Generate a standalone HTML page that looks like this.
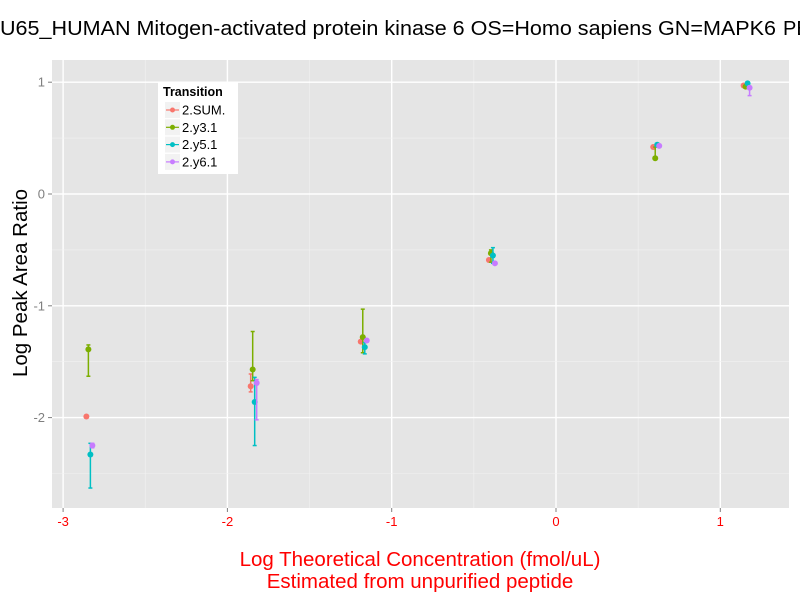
<!DOCTYPE html>
<html><head><meta charset="utf-8"><style>body{margin:0;background:#fff}svg{display:block;font-family:"Liberation Sans",sans-serif}</style></head>
<body>
<svg id="chart" width="800" height="600"></svg>
<script>
const groupX=[-2.84,-1.84,-1.17,-0.39,0.61,1.16];
const series=["2.SUM.","2.y3.1","2.y5.1","2.y6.1"];
const colors=["#F8766D","#7CAE00","#00BFC4","#C77CFF"];
const sumY=[-1.99,-1.72,-1.32,-0.59,0.42,0.97];
const y3Y=[-1.39,-1.57,-1.28,-0.53,0.32,0.96];
const y5Y=[-2.33,-1.86,-1.37,-0.55,0.44,0.99];
const y6Y=[-2.25,-1.69,-1.31,-0.62,0.43,0.95];
const sumLo=[null,-1.77,null,null,null,null];
const sumHi=[null,-1.61,null,null,null,null];
const y3Lo=[-1.63,-1.67,-1.42,-0.61,0.32,null];
const y3Hi=[-1.35,-1.23,-1.03,-0.50,0.42,null];
const y5Lo=[-2.63,-2.25,-1.43,-0.62,null,null];
const y5Hi=[-2.23,-1.64,-1.33,-0.48,null,null];
const y6Lo=[-2.27,-2.02,null,null,null,0.88];
const y6Hi=[-2.23,-1.66,null,null,null,0.95];
const xTicks=[-3,-2,-1,0,1];
const yTicks=[1,0,-1,-2];
const xs=v=>556+v*164.3, ys=v=>194-v*111.8;
const NS="http://www.w3.org/2000/svg",svg=document.getElementById('chart');
function mk(t,a,p){const e=document.createElementNS(NS,t);for(const k in a)e.setAttribute(k,a[k]);(p||svg).appendChild(e);return e;}
const L=52,R=789,T=60,B=508;
const panel=mk('rect',{x:L,y:T,width:R-L,height:B-T,fill:'#E5E5E5'});


for(let v=-3;v<=1.3;v+=0.5){const x=xs(v);if(x<L||x>R)continue;const major=Number.isInteger(v);mk('line',{x1:x,x2:x,y1:T,y2:B,stroke:major?'#fff':'#F2F2F2','stroke-width':major?1.4:0.6});}
for(let v=-2.5;v<=1.3;v+=0.5){const y=ys(v);if(y<T||y>B)continue;const major=Number.isInteger(v);mk('line',{x1:L,x2:R,y1:y,y2:y,stroke:major?'#fff':'#F2F2F2','stroke-width':major?1.4:0.6});}
xTicks.forEach(v=>{const x=xs(v);mk('line',{x1:x,x2:x,y1:B,y2:B+4,stroke:'#7f7f7f'});
const t=mk('text',{x:x,y:B+18,'text-anchor':'middle','font-size':13,fill:'#FF0000'});t.textContent=v;

});
yTicks.forEach(v=>{const y=ys(v);mk('line',{x1:L-4,x2:L,y1:y,y2:y,stroke:'#7f7f7f'});
const t=mk('text',{x:L-7,y:y+4.5,'text-anchor':'end','font-size':13,fill:'#7f7f7f'});t.textContent=v;

});
const vals=[sumY,y3Y,y5Y,y6Y],los=[sumLo,y3Lo,y5Lo,y6Lo],his=[sumHi,y3Hi,y5Hi,y6Hi],dodge=[-3,-1,1,3];
vals.forEach((arr,s)=>{arr.forEach((v,i)=>{const x=xs(groupX[i])+dodge[s];
if(los[s][i]!=null){const g=mk('g',{stroke:colors[s],'stroke-width':1.5});


const y1=ys(his[s][i]),y2=ys(los[s][i]);mk('line',{x1:x,x2:x,y1:y1,y2:y2},g);mk('line',{x1:x-2,x2:x+2,y1:y1,y2:y1},g);mk('line',{x1:x-2,x2:x+2,y1:y2,y2:y2},g);}
const c=mk('circle',{cx:x,cy:ys(v),r:3,fill:colors[s]});

});});
const lg=mk('g',{});


mk('rect',{x:158,y:82,width:80,height:92,fill:'#fff'},lg);
const lt=mk('text',{x:163,y:96,'font-size':12.5,'font-weight':'bold'},lg);lt.textContent='Transition';
series.forEach((n,i)=>{const y=110+i*17.3;mk('rect',{x:165,y:y-8,width:15,height:16,fill:'#F2F2F2'},lg);
mk('line',{x1:166,x2:179,y1:y,y2:y,stroke:colors[i],'stroke-width':1.2},lg);mk('circle',{cx:172.5,cy:y,r:2.5,fill:colors[i]},lg);
const t=mk('text',{x:182,y:y+4.5,'font-size':13},lg);t.textContent=n;

});
const ti=mk('text',{x:0,y:35,'font-size':20,textLength:776,lengthAdjust:'spacingAndGlyphs'},null);ti.textContent='U65_HUMAN Mitogen-activated protein kinase 6 OS=Homo sapiens GN=MAPK6';


const ti2=mk('text',{x:783,y:35,'font-size':20},null);ti2.textContent='PE=1 SV=4';


const yl=mk('text',{x:0,y:0,'font-size':20.5,'text-anchor':'middle',transform:'translate(27,283) rotate(-90)'});yl.textContent='Log Peak Area Ratio';


const x1=mk('text',{x:420,y:566,'font-size':20.5,'text-anchor':'middle',fill:'#FF0000'});x1.textContent='Log Theoretical Concentration (fmol/uL)';


const x2=mk('text',{x:420,y:588,'font-size':20.5,'text-anchor':'middle',fill:'#FF0000'});x2.textContent='Estimated from unpurified peptide';


</script>
</body></html>
